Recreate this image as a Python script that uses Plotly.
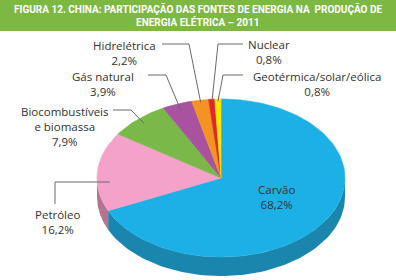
import numpy as np
import plotly.graph_objects as go

# ---- data ----
categories = ["Carvão", "Petróleo", "Biocombustíveis<br>e biomassa", "Gás natural",
              "Hidrelétrica", "Nuclear", "Geotérmica/solar/eólica"]
values = [68.2, 16.2, 7.9, 3.9, 2.2, 0.8, 0.8]
value_labels = ["68,2%", "16,2%", "7,9%", "3,9%", "2,2%", "0,8%", "0,8%"]
top_colors = ["#1DB0E6", "#F4A2C9", "#7BB84A", "#A9529F", "#F39323", "#E2262B", "#FCE500"]
side_colors = ["#1A86AE", "#B57390", "#5E8F37", "#7E3C77", "#B86E1A", "#A81C20", "#BFAE00"]

title_lines = ["FIGURA 12. CHINA: PARTICIPAÇÃO DAS FONTES DE ENERGIA NA  PRODUÇÃO DE",
               "ENERGIA ELÉTRICA – 2011"]

# ---- geometry (pixel space) ----
CX, CY, A, B, DEPTH = 221, 178, 124, 79, 19
vals = np.array(values, dtype=float)
ends = np.cumsum(vals) / vals.sum() * 2 * np.pi
starts = np.concatenate([[0], ends[:-1]])


def ept(t, r=1.0, dy=0.0):
    return CX + A * r * np.sin(t), CY - B * r * np.cos(t) + dy


fig = go.Figure()

# side (depth) band for the front half
for i in range(len(vals)):
    lo = max(starts[i], np.pi / 2)
    hi = min(ends[i], 3 * np.pi / 2)
    if hi <= lo:
        continue
    t = np.linspace(lo, hi, 80)
    x1, y1 = ept(t)
    x2, y2 = ept(t[::-1], dy=DEPTH)
    fig.add_trace(go.Scatter(x=np.concatenate([x1, x2]), y=np.concatenate([y1, y2]),
                             fill="toself", fillcolor=side_colors[i], mode="lines",
                             line=dict(width=0), hoverinfo="skip", showlegend=False))

# top slices
for i in range(len(vals)):
    t = np.linspace(starts[i], ends[i], max(4, int(200 * vals[i] / 100)))
    x, y = ept(t)
    fig.add_trace(go.Scatter(x=np.concatenate([[CX], x, [CX]]), y=np.concatenate([[CY], y, [CY]]),
                             fill="toself", fillcolor=top_colors[i], mode="lines",
                             line=dict(width=0.6, color=top_colors[i]),
                             hoverinfo="skip", showlegend=False))

# label placement
mids = (starts + ends) / 2
label_pos = {
    0: dict(x=276, y=187, lines=None),
    1: dict(x=57, y=212, lines=[(55, 204), (55, 182)], r=0.9),
    2: dict(x=64, y=109, lines=[(113, 110), (131, 110)], r=0.93),
    3: dict(x=103, y=74, lines=[(148, 75), (166, 75)], r=0.92),
    4: dict(x=124, y=43, lines=[(162, 44), (189, 44)], r=0.97),
    5: dict(x=269, y=42, lines=[(243, 44), (218, 44)], r=0.97),
    6: dict(x=317, y=74, lines=[(243, 75), (223, 75)], r=0.97),
}

for i, p in label_pos.items():
    name = categories[i]
    fig.add_annotation(x=p["x"], y=p["y"] - 7, xref="x", yref="y",
                       text=f"{name}<br>{value_labels[i]}", showarrow=False,
                       xanchor="center", yanchor="top", align="center",
                       font=dict(family="Open Sans", size=11.5, color="#333333"))
    if p["lines"]:
        ex, ey = ept(mids[i], p["r"])
        if i == 1:
            xs = [55, 55, ex]
            ys = [204, 182, 182]
        else:
            xs = [q[0] for q in p["lines"]] + [ex]
            ys = [q[1] for q in p["lines"]] + [ey]
        fig.add_trace(go.Scatter(x=xs, y=ys, mode="lines",
                                 line=dict(color="#6b6b6b", width=1),
                                 hoverinfo="skip", showlegend=False))

# title lines on green band
for k, line in enumerate(title_lines):
    fig.add_annotation(x=198, y=9 + k * 12.5, xref="x", yref="y", text=line,
                       showarrow=False, xanchor="center", yanchor="middle",
                       font=dict(family="Roboto", size=10, color="white", weight="bold"))

fig.update_layout(
    width=396, height=280,
    margin=dict(l=0, r=0, t=0, b=0),
    paper_bgcolor="white", plot_bgcolor="white",
    xaxis=dict(range=[0, 396], visible=False, fixedrange=True),
    yaxis=dict(range=[280, 0], visible=False, fixedrange=True),
    shapes=[dict(type="rect", xref="paper", yref="paper", x0=0, x1=1,
                 y0=1 - 31 / 280, y1=1, fillcolor="#7DB843", line=dict(width=0),
                 layer="below")],
)

fig.write_html("out.html")
